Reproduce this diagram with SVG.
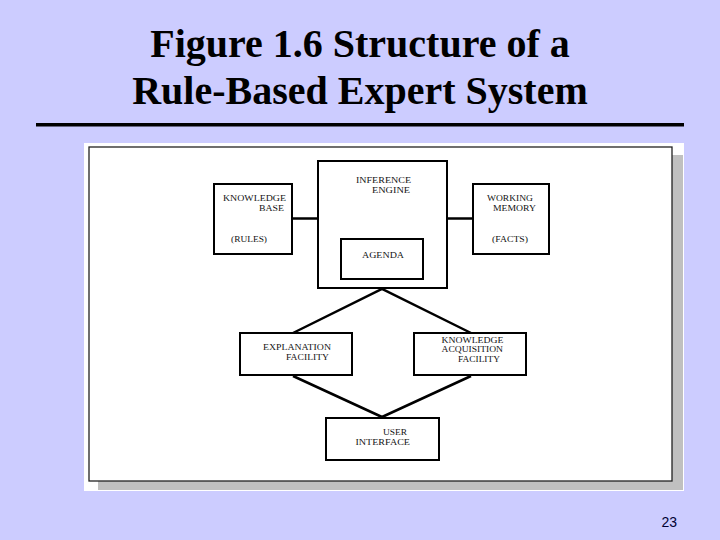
<svg xmlns="http://www.w3.org/2000/svg" width="720" height="540" viewBox="0 0 720 540">
<style>
.t{font-family:"Liberation Serif","Times New Roman",serif;font-size:9px;fill:#111}
.title{font-family:"Liberation Serif","Times New Roman",serif;font-size:40px;font-weight:bold;fill:#000;text-anchor:middle}
.box{fill:#fff;stroke:#000;stroke-width:2}
.conn{stroke:#000;stroke-width:2.5;fill:none}
</style>
<rect width="720" height="540" fill="#ccccff"/>
<text class="title" x="360" y="57">Figure 1.6 Structure of a</text>
<text class="title" x="360" y="104">Rule-Based Expert System</text>
<rect x="36" y="123" width="648" height="3.5" fill="#000"/>
<rect x="84" y="143" width="600" height="348" fill="#fff"/>
<rect x="98" y="155" width="585" height="335" fill="#c0c0c0"/>
<rect x="89" y="147" width="583" height="334" fill="#fff" stroke="#222" stroke-width="1.3"/>
<g id="connectors">
<line class="conn" x1="292" y1="218.5" x2="318" y2="218.5"/>
<line class="conn" x1="447" y1="218.5" x2="473" y2="218.5"/>
<polyline class="conn" points="293,333 382,289 471,333"/>
<polyline class="conn" points="293,376 382,417 471,376"/>
</g>
<g id="knowledge-base">
<rect class="box" x="214" y="184" width="78" height="70"/>
<text class="t" x="223" y="200.5" textLength="63" lengthAdjust="spacingAndGlyphs">KNOWLEDGE</text>
<text class="t" x="259" y="210.5" textLength="25" lengthAdjust="spacingAndGlyphs">BASE</text>
<text class="t" x="231" y="242" textLength="36" lengthAdjust="spacingAndGlyphs">(RULES)</text>
</g>
<g id="inference-engine">
<rect class="box" x="318" y="161" width="129" height="127" stroke-width="1.5"/>
<text class="t" x="356" y="183" textLength="55" lengthAdjust="spacingAndGlyphs">INFERENCE</text>
<text class="t" x="372" y="193" textLength="38" lengthAdjust="spacingAndGlyphs">ENGINE</text>
</g>
<g id="agenda">
<rect class="box" x="341" y="239" width="82" height="40" stroke-width="2.5"/>
<text class="t" x="362" y="258" textLength="42" lengthAdjust="spacingAndGlyphs">AGENDA</text>
</g>
<g id="working-memory">
<rect class="box" x="473" y="184" width="76" height="70"/>
<text class="t" x="487" y="200.5" textLength="46" lengthAdjust="spacingAndGlyphs">WORKING</text>
<text class="t" x="493" y="210.5" textLength="43" lengthAdjust="spacingAndGlyphs">MEMORY</text>
<text class="t" x="492" y="242" textLength="36" lengthAdjust="spacingAndGlyphs">(FACTS)</text>
</g>
<g id="explanation-facility">
<rect class="box" x="240" y="333" width="112" height="42"/>
<text class="t" x="263" y="349.5" textLength="68" lengthAdjust="spacingAndGlyphs">EXPLANATION</text>
<text class="t" x="286" y="360" textLength="43" lengthAdjust="spacingAndGlyphs">FACILITY</text>
</g>
<g id="knowledge-acquisition-facility">
<rect class="box" x="414" y="333" width="112" height="42"/>
<text class="t" x="441.5" y="342.5" textLength="62" lengthAdjust="spacingAndGlyphs">KNOWLEDGE</text>
<text class="t" x="441.5" y="352" textLength="61.5" lengthAdjust="spacingAndGlyphs">ACQUISITION</text>
<text class="t" x="458" y="362" textLength="42" lengthAdjust="spacingAndGlyphs">FACILITY</text>
</g>
<g id="user-interface">
<rect class="box" x="326" y="418" width="113" height="42"/>
<text class="t" x="383" y="434.5" textLength="24" lengthAdjust="spacingAndGlyphs">USER</text>
<text class="t" x="355.5" y="445" textLength="54.5" lengthAdjust="spacingAndGlyphs">INTERFACE</text>
</g>
<text x="677" y="527" text-anchor="end" style="font-family:'Liberation Sans',Arial,sans-serif;font-size:14px;fill:#000033">23</text>
</svg>
